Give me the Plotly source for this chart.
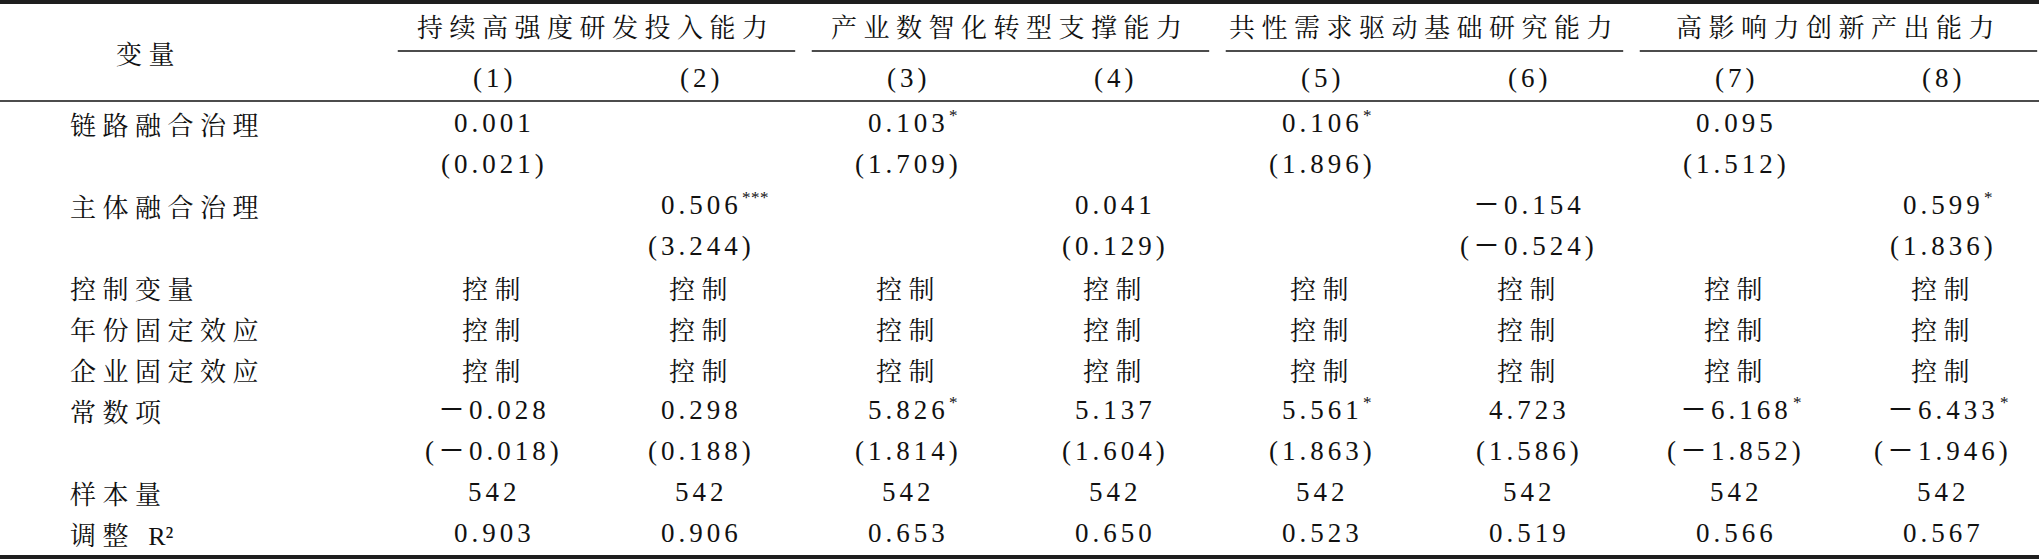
import plotly.graph_objects as go

# ---------------- data ----------------
groups = ["持续高强度研发投入能力", "产业数智化转型支撑能力", "共性需求驱动基础研究能力", "高影响力创新产出能力"]
models = ["(1)", "(2)", "(3)", "(4)", "(5)", "(6)", "(7)", "(8)"]
row_labels = ["链路融合治理", "", "主体融合治理", "", "控制变量", "年份固定效应", "企业固定效应",
              "常数项", "", "样本量", "调整 R²"]
header_label = "变量"

link_coef = [0.001, None, 0.103, None, 0.106, None, 0.095, None]
link_stars = ["", "", "*", "", "*", "", "", ""]
link_t = [0.021, None, 1.709, None, 1.896, None, 1.512, None]

subj_coef = [None, 0.506, None, 0.041, None, -0.154, None, 0.599]
subj_stars = ["", "***", "", "", "", "", "", "*"]
subj_t = [None, 3.244, None, 0.129, None, -0.524, None, 1.836]

controls = ["控制", "控制", "控制", "控制", "控制", "控制", "控制", "控制"]
year_fe = ["控制", "控制", "控制", "控制", "控制", "控制", "控制", "控制"]
firm_fe = ["控制", "控制", "控制", "控制", "控制", "控制", "控制", "控制"]

const_coef = [-0.028, 0.298, 5.826, 5.137, 5.561, 4.723, -6.168, -6.433]
const_stars = ["", "", "*", "", "*", "", "*", "*"]
const_t = [-0.018, 0.188, 1.814, 1.604, 1.863, 1.586, -1.852, -1.946]

n_obs = [542, 542, 542, 542, 542, 542, 542, 542]
adj_r2 = [0.903, 0.906, 0.653, 0.650, 0.523, 0.519, 0.566, 0.567]

# ---------------- styling ----------------
W, H = 2039, 559
COL1_PX, COL_PX = 494, 207          # pixel centre of model (1), column pitch
ROW0_PX, ROW_PX = 123, 41           # pixel centre of first body row, row pitch

CJK = "Noto Serif CJK SC, Noto Sans CJK SC, sans-serif"
NUM = "Liberation Serif, Noto Sans CJK SC, serif"
INK = "#111111"
CJK_SIZE, NUM_SIZE = 26, 27
CJK_LS, NUM_LS = 6.5, 4.0
STAR_SIZE = 17

# approximate advance widths (em) of the number font, used to place the stars
EM = {"(": 0.333, ")": 0.333, ".": 0.25, "－": 1.0}


def px_to_row(p):
    return (p - ROW0_PX) / ROW_PX


def px_to_col(p):
    return 1 + (p - COL1_PX) / COL_PX


def spaced(s, ls):
    return f'<span style="letter-spacing:{ls}px">{s}</span>'


def fmt(v):
    return ("－" if v < 0 else "") + f"{abs(v):.3f}"


def num_width(s):
    return sum(EM.get(ch, 0.5) * NUM_SIZE + NUM_LS for ch in s)


fig = go.Figure()
fig.add_trace(go.Scatter(x=[], y=[], showlegend=False))

ann = []


def add_cell(x, y, text, font_family, size, ls, xanchor="center", xshift=0, yshift=0, raw=False):
    ann.append(dict(x=x, y=y, xref="x", yref="y", text=text if raw else spaced(text, ls),
                    showarrow=False, xanchor=xanchor, yanchor="middle", xshift=xshift, yshift=yshift,
                    font=dict(family=font_family, size=size, color=INK)))


# header
add_cell(px_to_col(148), px_to_row(52), header_label, CJK, CJK_SIZE, CJK_LS)
for g, name in enumerate(groups):
    add_cell(2 * g + 1.5 - 0.005, px_to_row(25), name, CJK, CJK_SIZE, CJK_LS)
for i, m in enumerate(models):
    add_cell(i + 1, px_to_row(78), m, NUM, NUM_SIZE, NUM_LS)

# row labels
lab_x = px_to_col(68)
for r, lab in enumerate(row_labels):
    if not lab:
        continue
    if lab.startswith("调整"):
        head, tail = lab.split(" ")
        txt = (f'<span style="letter-spacing:{CJK_LS}px">{head} </span>'
               f'<span style="font-family:Liberation Serif;letter-spacing:0px">{tail}</span>')
        add_cell(lab_x, r, txt, CJK, CJK_SIZE, 0, xanchor="left", raw=True)
    else:
        add_cell(lab_x, r, lab, CJK, CJK_SIZE, CJK_LS, xanchor="left")


def coef_row(r, vals, stars):
    for i, (v, s) in enumerate(zip(vals, stars)):
        if v is None:
            continue
        txt = fmt(v)
        add_cell(i + 1, r, txt, NUM, NUM_SIZE, NUM_LS)
        if s:
            add_cell(i + 1, r, s, NUM, STAR_SIZE, 0.5, xanchor="left",
                     xshift=num_width(txt) / 2 - 1, yshift=8)


def t_row(r, vals):
    for i, v in enumerate(vals):
        if v is None:
            continue
        add_cell(i + 1, r, f"({fmt(v)})", NUM, NUM_SIZE, NUM_LS)


def text_row(r, vals, fam, size, ls):
    for i, v in enumerate(vals):
        add_cell(i + 1, r, str(v), fam, size, ls)


coef_row(0, link_coef, link_stars)
t_row(1, link_t)
coef_row(2, subj_coef, subj_stars)
t_row(3, subj_t)
text_row(4, controls, CJK, CJK_SIZE, CJK_LS)
text_row(5, year_fe, CJK, CJK_SIZE, CJK_LS)
text_row(6, firm_fe, CJK, CJK_SIZE, CJK_LS)
coef_row(7, const_coef, const_stars)
t_row(8, const_t)
text_row(9, [str(n) for n in n_obs], NUM, NUM_SIZE, NUM_LS)
text_row(10, [f"{v:.3f}" for v in adj_r2], NUM, NUM_SIZE, NUM_LS)

# ---------------- rules ----------------
shapes = []
# thick top & bottom rules
for p in (2, 557):
    shapes.append(dict(type="line", xref="paper", yref="y", x0=0, x1=1, layer="above",
                       y0=px_to_row(p), y1=px_to_row(p), line=dict(color="#1e1e1e", width=4)))
# header rule
shapes.append(dict(type="line", xref="paper", yref="y", x0=0, x1=1,
                   y0=px_to_row(101), y1=px_to_row(101), line=dict(color=INK, width=1.6)))
# group underlines
for g in range(len(groups)):
    shapes.append(dict(type="line", xref="x", yref="y", x0=2 * g + 1 - 0.465, x1=2 * g + 2 + 0.455,
                       y0=px_to_row(51), y1=px_to_row(51), line=dict(color=INK, width=1.6)))

fig.update_layout(
    width=W, height=H,
    margin=dict(l=0, r=0, t=0, b=0, pad=0),
    paper_bgcolor="white", plot_bgcolor="white",
    xaxis=dict(range=[px_to_col(0), px_to_col(W)], visible=False, fixedrange=True),
    yaxis=dict(range=[px_to_row(H), px_to_row(0)], visible=False, fixedrange=True),
    annotations=ann, shapes=shapes, showlegend=False,
)

fig.write_html("out.html", config={"displayModeBar": False},
               post_script="document.body.style.margin='0';document.body.style.overflow='hidden';")
